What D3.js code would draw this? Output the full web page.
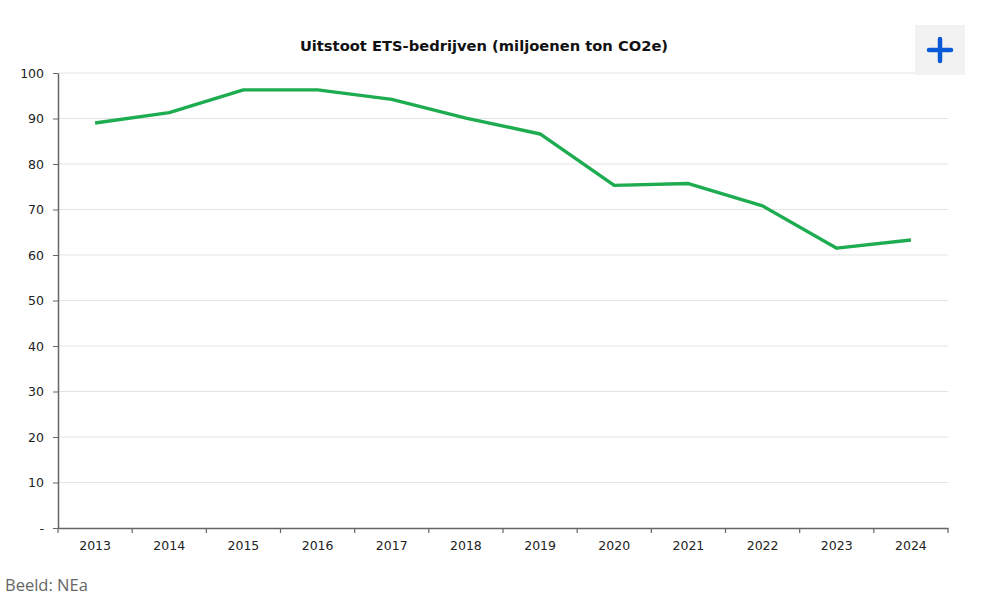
<!DOCTYPE html>
<html>
<head>
<meta charset="utf-8">
<script src="https://cdn.jsdelivr.net/npm/d3@7"></script>
<style>
  body { margin: 0; background: #fff; }
  svg { display: block; }
</style>
</head>
<body>
<svg id="chart" width="981" height="601"></svg>
<script>
var years = ['2013', '2014', '2015', '2016', '2017', '2018', '2019', '2020', '2021', '2022', '2023', '2024'];
var emissions = [89.0, 91.3, 96.3, 96.3, 94.2, 90.1, 86.6, 75.3, 75.7, 70.8, 61.5, 63.3];
var yTicks = [0, 10, 20, 30, 40, 50, 60, 70, 80, 90, 100];

var svg = d3.select('#chart'),
    mLeft = 58, mRight = 948, mTop = 73, mBottom = 528;

var x = d3.scaleBand().domain(years).range([mLeft, mRight]);
var y = d3.scaleLinear().domain([0, 100]).range([mBottom, mTop]);

// gridlines
svg.append('g')
  .selectAll('line')
  .data(yTicks.slice(1))
  .join('line')
  .attr('x1', mLeft).attr('x2', mRight)
  .attr('y1', function(d) { return y(d); })
  .attr('y2', function(d) { return y(d); })
  .attr('stroke', '#e3e3e3')
  .attr('stroke-width', 1);

// y axis
var yAxis = svg.append('g')
  .attr('transform', 'translate(' + mLeft + ',0)')
  .call(d3.axisLeft(y).tickValues(yTicks).tickSize(5).tickSizeOuter(0)
    .tickFormat(function(d) { return d === 0 ? '-' : d; }));
yAxis.select('.domain').attr('stroke', '#666').attr('stroke-width', 1.5);
yAxis.selectAll('.tick line').attr('stroke', '#666');
yAxis.selectAll('.tick text')
  .attr('x', -14)
  .attr('fill', '#222')
  .style('font-family', 'DejaVu Sans, Verdana, sans-serif')
  .style('font-size', '12.5px');

// x axis, ticks at band boundaries
var xAxis = svg.append('g')
  .attr('transform', 'translate(0,' + mBottom + ')')
  .call(d3.axisBottom(x).tickSize(0).tickPadding(13));
xAxis.select('.domain').attr('stroke', '#666').attr('stroke-width', 1.5);
xAxis.selectAll('.tick text')
  .attr('fill', '#222')
  .style('font-family', 'DejaVu Sans, Verdana, sans-serif')
  .style('font-size', '12.5px');
xAxis.selectAll('line.bound')
  .data(d3.range(years.length + 1))
  .join('line')
  .attr('class', 'bound')
  .attr('x1', function(i) { return mLeft + i * x.step(); })
  .attr('x2', function(i) { return mLeft + i * x.step(); })
  .attr('y1', 0).attr('y2', 5)
  .attr('stroke', '#666').attr('stroke-width', 1.2);

// line
var line = d3.line()
  .x(function(d, i) { return x(years[i]) + x.bandwidth() / 2; })
  .y(function(d) { return y(d); });

svg.append('path')
  .datum(emissions)
  .attr('d', line)
  .attr('fill', 'none')
  .attr('stroke', '#1dac50')
  .attr('stroke-width', 3.4)
  .attr('stroke-linejoin', 'round');

// title
svg.append('text')
  .attr('x', 484).attr('y', 51)
  .attr('text-anchor', 'middle')
  .style('font-family', 'DejaVu Sans, Verdana, sans-serif')
  .style('font-size', '14.7px')
  .style('font-weight', 'bold')
  .attr('fill', '#111')
  .text('Uitstoot ETS-bedrijven (miljoenen ton CO2e)');

// plus button
var btn = svg.append('g');
btn.append('rect')
  .attr('x', 915).attr('y', 25).attr('width', 50).attr('height', 50)
  .attr('fill', '#f2f2f2');
btn.append('path')
  .attr('d', 'M940,39 V61 M929,50 H951')
  .attr('stroke', '#0a5ad8').attr('stroke-width', 4.5)
  .attr('stroke-linecap', 'round');

// source
svg.append('text')
  .attr('x', 5).attr('y', 591)
  .style('font-family', 'Open Sans, sans-serif')
  .style('font-size', '16.5px')
  .attr('fill', '#666')
  .text('Beeld: NEa');
</script>
</body>
</html>
